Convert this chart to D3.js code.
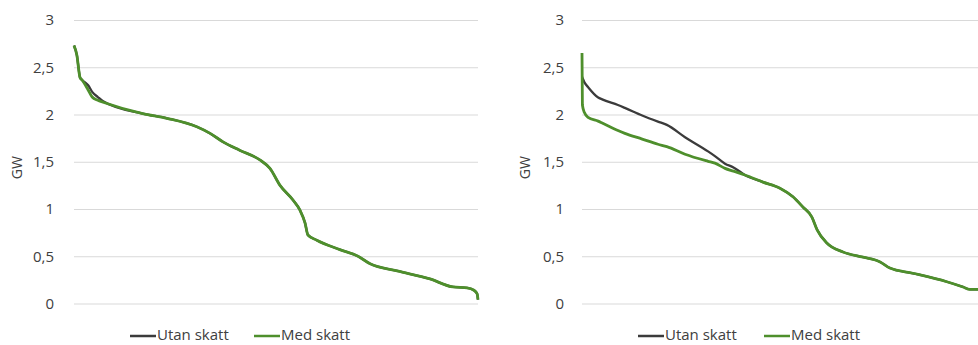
<!DOCTYPE html>
<html><head><meta charset="utf-8">
<script src="https://cdn.jsdelivr.net/npm/d3@7"></script>
<style>
html,body{margin:0;padding:0;background:#fff;}
svg{display:block;font-family:"Open Sans",Lato,sans-serif;}
</style></head>
<body>
<svg id="chart" width="978" height="345"></svg>
<script>
// ---- data ----
const yTicks = [0, 0.5, 1, 1.5, 2, 2.5, 3];
const yTickLabels = ["0", "0,5", "1", "1,5", "2", "2,5", "3"];
const seriesNames = ["Utan skatt", "Med skatt"];
const yTitle = "GW";

// left panel: share of time (%) and GW
const leftPct  = [0, 0.7, 1.5, 2.0, 3.5, 4.5, 5.9, 7.2, 17, 23, 30.4, 33.7, 36.9, 41.1, 46, 48.5, 51, 54.2, 55.9, 57.2, 57.9, 60.1, 65.8, 70.3, 73.3, 80, 88.1, 93.8, 97.3, 99, 99.8, 100];
const leftUtan = [2.73, 2.63, 2.39, 2.365, 2.31, 2.24, 2.185, 2.14, 2.01, 1.96, 1.87, 1.80, 1.71, 1.62, 1.52, 1.43, 1.25, 1.095, 0.99, 0.85, 0.725, 0.67, 0.57, 0.50, 0.42, 0.345, 0.26, 0.175, 0.165, 0.14, 0.10, 0.04];
const leftMed  = [2.73, 2.63, 2.39, 2.365, 2.26, 2.185, 2.15, 2.13, 2.01, 1.96, 1.87, 1.80, 1.71, 1.62, 1.52, 1.43, 1.25, 1.095, 0.99, 0.85, 0.725, 0.67, 0.57, 0.50, 0.42, 0.345, 0.26, 0.175, 0.165, 0.14, 0.10, 0.04];

// right panel
const rightPct  = [0, 0.1, 0.6, 1.5, 4, 5, 8.9, 10.6, 14.9, 18.8, 21, 25.5, 31.2, 32.9, 35.4, 37.5, 40.3, 44.8, 49, 52.2, 54.7, 56.9, 58.2, 60.6, 64.6, 69.6, 73.8, 76.2, 81.9, 90.3, 94.3, 96, 98, 100];
const rightUtan = [2.40, 2.39, 2.34, 2.29, 2.18, 2.16, 2.10, 2.07, 1.99, 1.925, 1.89, 1.76, 1.61, 1.56, 1.48, 1.44, 1.36, 1.285, 1.22, 1.13, 1.02, 0.915, 0.78, 0.64, 0.545, 0.49, 0.44, 0.375, 0.32, 0.23, 0.175, 0.15, 0.15, 0.13];
const rightMed  = [2.65, 2.10, 2.02, 1.97, 1.93, 1.91, 1.83, 1.80, 1.74, 1.685, 1.66, 1.58, 1.505, 1.485, 1.43, 1.40, 1.36, 1.285, 1.22, 1.13, 1.02, 0.915, 0.78, 0.64, 0.545, 0.49, 0.44, 0.375, 0.32, 0.23, 0.175, 0.15, 0.15, 0.13];

// ---- drawing ----
const colors = {utan: "#3b3b3b", med: "#4e8f2c"};
const textColor = "#404040";
const svg = d3.select("#chart");
svg.append("rect").attr("width", 978).attr("height", 345).attr("fill", "#fff");

const panels = [
  {x0: 74, labelX: 54, titleX: 18, pct: leftPct, utan: leftUtan, med: leftMed,
   legend: {utanLine: 130, medLine: 254}},
  {x0: 582, labelX: 564, titleX: 526, pct: rightPct, utan: rightUtan, med: rightMed,
   legend: {utanLine: 638, medLine: 764}}
];
const plotW = 404, yTop = 20, yBot = 303.5;

panels.forEach(p => {
  const g = svg.append("g");
  const x = d3.scaleLinear().domain([0, 100]).range([p.x0, p.x0 + plotW]);
  const y = d3.scaleLinear().domain([0, 3]).range([yBot, yTop]);

  // gridlines
  const yAxis = d3.axisLeft(y).tickValues(yTicks)
    .tickSize(-plotW).tickPadding(p.x0 - p.labelX)
    .tickFormat((d, i) => yTickLabels[i]);
  const ag = g.append("g").attr("transform", `translate(${p.x0},0)`).call(yAxis);
  ag.select(".domain").remove();
  ag.selectAll(".tick line").attr("stroke", "#d9d9d9").attr("stroke-width", 1);
  ag.selectAll(".tick text").attr("fill", textColor).attr("font-size", 15)
    .attr("font-family", "'Open Sans', Lato, sans-serif");

  // title
  g.append("text").attr("transform", `translate(${p.titleX},${(yTop + yBot) / 2 + 6}) rotate(-90)`)
    .attr("text-anchor", "middle").attr("dominant-baseline", "middle")
    .attr("fill", textColor).attr("font-size", 14).text(yTitle);

  const line = d3.line().curve(d3.curveMonotoneX).x(d => x(d[0])).y(d => y(d[1]));
  const dU = p.pct.map((v, i) => [v, p.utan[i]]);
  const dM = p.pct.map((v, i) => [v, p.med[i]]);
  g.append("path").attr("d", line(dU)).attr("fill", "none")
    .attr("stroke", colors.utan).attr("stroke-width", 2.3).attr("stroke-linejoin", "round");
  g.append("path").attr("d", line(dM)).attr("fill", "none")
    .attr("stroke", colors.med).attr("stroke-width", 2.8).attr("stroke-linejoin", "round");

  // legend
  const ly = 336;
  const items = [[p.legend.utanLine, colors.utan, seriesNames[0]], [p.legend.medLine, colors.med, seriesNames[1]]];
  items.forEach(([lx, c, name]) => {
    g.append("line").attr("x1", lx).attr("x2", lx + 26).attr("y1", ly).attr("y2", ly)
      .attr("stroke", c).attr("stroke-width", 2.5);
    g.append("text").attr("x", lx + 27).attr("y", ly).attr("dominant-baseline", "middle")
      .attr("fill", textColor).attr("font-size", 15).text(name);
  });
});
</script>
</body></html>
